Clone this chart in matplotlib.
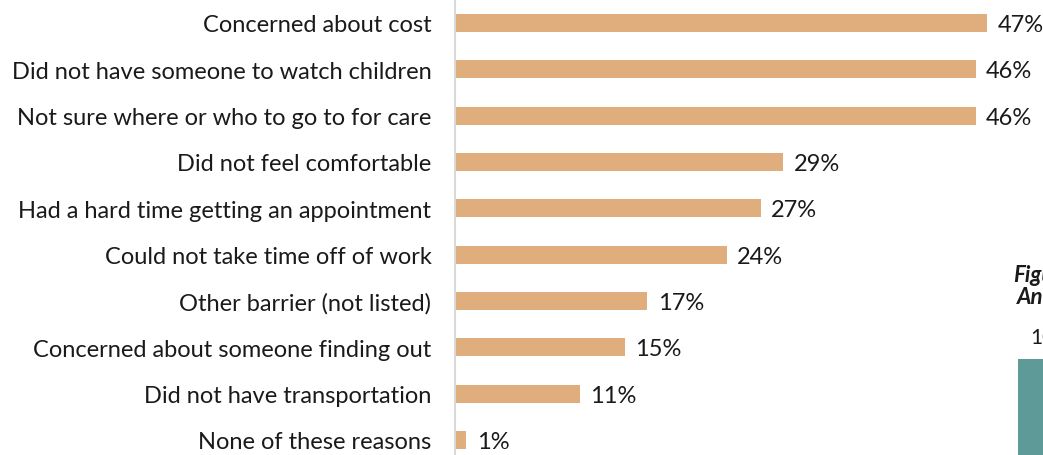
import matplotlib
matplotlib.use("Agg")
import matplotlib.pyplot as plt

plt.rcParams["font.family"] = ["Lato", "DejaVu Sans"]

# barriers to getting care, share of respondents (%)
reasons = [
    "Concerned about cost",
    "Did not have someone to watch children",
    "Not sure where or who to go to for care",
    "Did not feel comfortable",
    "Had a hard time getting an appointment",
    "Could not take time off of work",
    "Other barrier (not listed)",
    "Concerned about someone finding out",
    "Did not have transportation",
    "None of these reasons",
]
shares = [47, 46, 46, 29, 27, 24, 17, 15, 11, 1]

# first bar of the next figure, cut off at the right edge
next_values = [100]

W, H = 1043, 456
fig = plt.figure(figsize=(W / 100, H / 100), dpi=100)
ax = fig.add_axes([455 / W, 0, (W - 455) / W, 1])

pos = list(range(len(reasons)))
ax.barh(pos, shares, height=0.39, color="#E0AE7C", edgecolor="none")
ax.set_xlim(0, (W - 455) / 11.32)
ax.set_ylim((H - 24) / 46.33, -24 / 46.33)

for y, v in zip(pos, shares):
    ax.annotate(f"{v}%", (v, y), xytext=(7.5, -1), textcoords="offset points",
                va="center", ha="left", fontsize=17, color="#1a1a1a")

ax.set_yticks(pos)
ax.set_yticklabels(reasons, fontsize=17, color="#1a1a1a")
ax.tick_params(axis="y", length=0, pad=17)
ax.set_xticks([])
for s in ["top", "right", "bottom"]:
    ax.spines[s].set_visible(False)
ax.spines["left"].set_color("#d9d9d9")
ax.spines["left"].set_linewidth(1.5)

# neighbouring figure, mostly outside the canvas
fig.text(1013 / W, 1 - 276 / H, "Figure", fontsize=16, fontweight="bold",
         fontstyle="italic", va="center", ha="left", color="#1a1a1a")
fig.text(1017 / W, 1 - 298 / H, "Annual", fontsize=16, fontweight="bold",
         fontstyle="italic", va="center", ha="left", color="#1a1a1a")
fig.text(1030 / W, 1 - 338 / H, "100%", fontsize=15, va="center", ha="left",
         color="#1a1a1a")
ax2 = fig.add_axes([1018 / W, 0, 0.2, 1 - 360 / H])
ax2.bar([0], next_values, width=3, align="edge", color="#5E9A98")
ax2.set_xlim(0, 10)
ax2.set_ylim(0, next_values[0])
ax2.axis("off")

fig.savefig("out.png", dpi=100)
